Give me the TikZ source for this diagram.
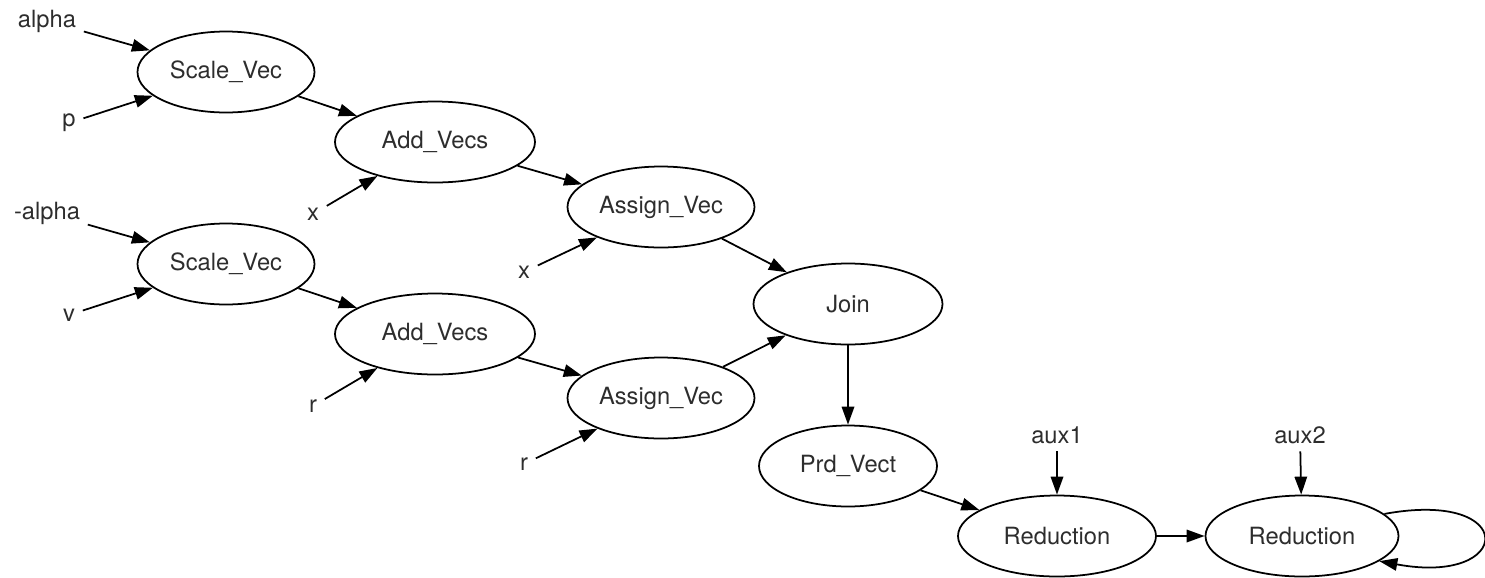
\documentclass[tikz,border=0pt]{standalone}
\usepackage{fontspec}
\setmainfont{TeX Gyre Heros}
\usepackage{tikz}
\usetikzlibrary{shapes.geometric,arrows.meta,positioning,calc}
\definecolor{labelgray}{RGB}{45,45,45}

\begin{document}
\begin{tikzpicture}[
op/.style={draw, ellipse, line width=1pt, minimum height=1.62cm, inner sep=0pt,
text=labelgray, font=\fontsize{13.5}{16}\selectfont},
inp/.style={inner sep=0.15cm, text=labelgray, font=\fontsize{13.5}{16}\selectfont},
arrow/.style={-{Triangle[length=0.36cm,width=0.25cm]}, line width=1pt}
]
\useasboundingbox (0,0) rectangle (29.7,-11.54);

\node[op, minimum width=3.54cm] (sv1) at (4.52,-1.44) {Scale\_Vec};
\node[op, minimum width=4.0cm]  (av1) at (8.70,-2.84) {Add\_Vecs};
\node[op, minimum width=3.74cm] (as1) at (13.22,-4.14) {Assign\_Vec};
\node[op, minimum width=3.54cm] (sv2) at (4.52,-5.28) {Scale\_Vec};
\node[op, minimum width=4.0cm]  (av2) at (8.70,-6.68) {Add\_Vecs};
\node[op, minimum width=3.74cm] (as2) at (13.22,-7.96) {Assign\_Vec};
\node[op, minimum width=3.78cm] (join) at (16.96,-6.08) {Join};
\node[op, minimum width=3.56cm] (prd) at (16.96,-9.32) {Prd\_Vect};
\node[op, minimum width=3.96cm] (red1) at (21.14,-10.72) {Reduction};
\node[op, minimum width=3.86cm] (red2) at (26.04,-10.72) {Reduction};

\node[inp] (alpha) at (0.94,-0.42) {alpha};
\node[inp] (p) at (1.38,-2.46) {p};
\node[inp] (x1) at (6.26,-4.28) {x};
\node[inp] (malpha) at (0.94,-4.26) {-alpha};
\node[inp] (v) at (1.38,-6.30) {v};
\node[inp] (x2) at (10.48,-5.44) {x};
\node[inp] (r1) at (6.26,-8.12) {r};
\node[inp] (r2) at (10.48,-9.28) {r};
\node[inp] (aux1) at (21.14,-8.70) {aux1};
\node[inp] (aux2) at (26.0,-8.70) {aux2};

\draw[arrow] (alpha) -- (sv1);
\draw[arrow] (p) -- (sv1);
\draw[arrow] (sv1) -- (av1);
\draw[arrow] (x1) -- (av1);
\draw[arrow] (av1) -- (as1);
\draw[arrow] (x2) -- (as1);
\draw[arrow] (as1) -- (join);

\draw[arrow] (malpha) -- (sv2);
\draw[arrow] (v) -- (sv2);
\draw[arrow] (sv2) -- (av2);
\draw[arrow] (r1) -- (av2);
\draw[arrow] (av2) -- (as2);
\draw[arrow] (r2) -- (as2);
\draw[arrow] (as2) -- (join);

\draw[arrow] (join) -- (prd);
\draw[arrow] (prd) -- (red1);
\draw[arrow] (aux1) -- (red1);
\draw[arrow] (red1) -- (red2);
\draw[arrow] (aux2) -- (red2);
\draw[arrow] (red2.15) .. controls +(2.7,0.5) and +(2.7,-0.5) .. (red2.-18);

\end{tikzpicture}
\end{document}
